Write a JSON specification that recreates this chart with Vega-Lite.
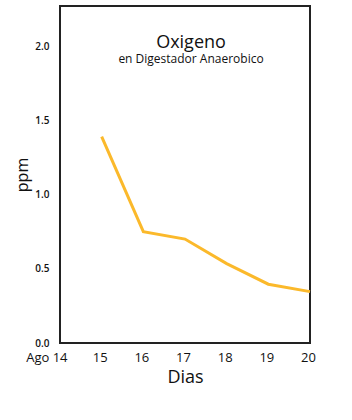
{
  "$schema": "https://vega.github.io/schema/vega-lite/v6.json",
  "width": 250,
  "height": 337,
  "autosize": {"type": "none"},
  "padding": {"left": 60, "top": 6, "right": 42, "bottom": 77},
  "background": "white",
  "config": {"view": {"stroke": "#222", "strokeWidth": 2}, "font": "Open Sans"},
  "title": {
    "text": "Oxigeno",
    "subtitle": "en Digestador Anaerobico",
    "offset": -59,
    "anchor": "middle",
    "dx": 6,
    "fontSize": 18,
    "fontWeight": "normal",
    "subtitleFontSize": 12,
    "subtitlePadding": 2,
    "color": "#111",
    "subtitleColor": "#111"
  },
  "data": {
    "values": [
      {"dia": 15, "ppm": 1.39},
      {"dia": 16, "ppm": 0.75},
      {"dia": 17, "ppm": 0.70},
      {"dia": 18, "ppm": 0.535},
      {"dia": 19, "ppm": 0.396},
      {"dia": 20, "ppm": 0.346}
    ]
  },
  "mark": {"type": "line", "color": "#fbb92b", "strokeWidth": 3},
  "encoding": {
    "x": {
      "field": "dia",
      "type": "quantitative",
      "scale": {"domain": [14, 20], "nice": false},
      "axis": {
        "values": [14, 15, 16, 17, 18, 19, 20],
        "grid": false,
        "ticks": false,
        "domain": false,
        "labelExpr": "datum.value == 14 ? 'Ago 14' : datum.label",
        "labelAlign": {"condition": {"test": "datum.value == 14", "value": "right"}, "value": "center"},
        "labelOffset": {"condition": {"test": "datum.value == 14", "value": 7}, "value": -2},
        "labelOverlap": false,
        "labelFlush": false,
        "labelFontSize": 13,
        "labelPadding": 8,
        "labelColor": "#111",
        "title": "Dias",
        "titleFontSize": 18,
        "titleFontWeight": "normal",
        "titleColor": "#111",
        "titlePadding": 4
      }
    },
    "y": {
      "field": "ppm",
      "type": "quantitative",
      "scale": {"domain": [0, 2.27], "nice": false},
      "axis": {
        "values": [0, 0.5, 1, 1.5, 2],
        "format": ".1f",
        "grid": false,
        "ticks": false,
        "domain": false,
        "labelFontSize": 10,
        "labelFontWeight": 600,
        "labelPadding": 11,
        "labelColor": "#111",
        "title": "ppm",
        "titleFontSize": 16,
        "titleFontWeight": "normal",
        "titleColor": "#111",
        "titlePadding": 4
      }
    }
  }
}
